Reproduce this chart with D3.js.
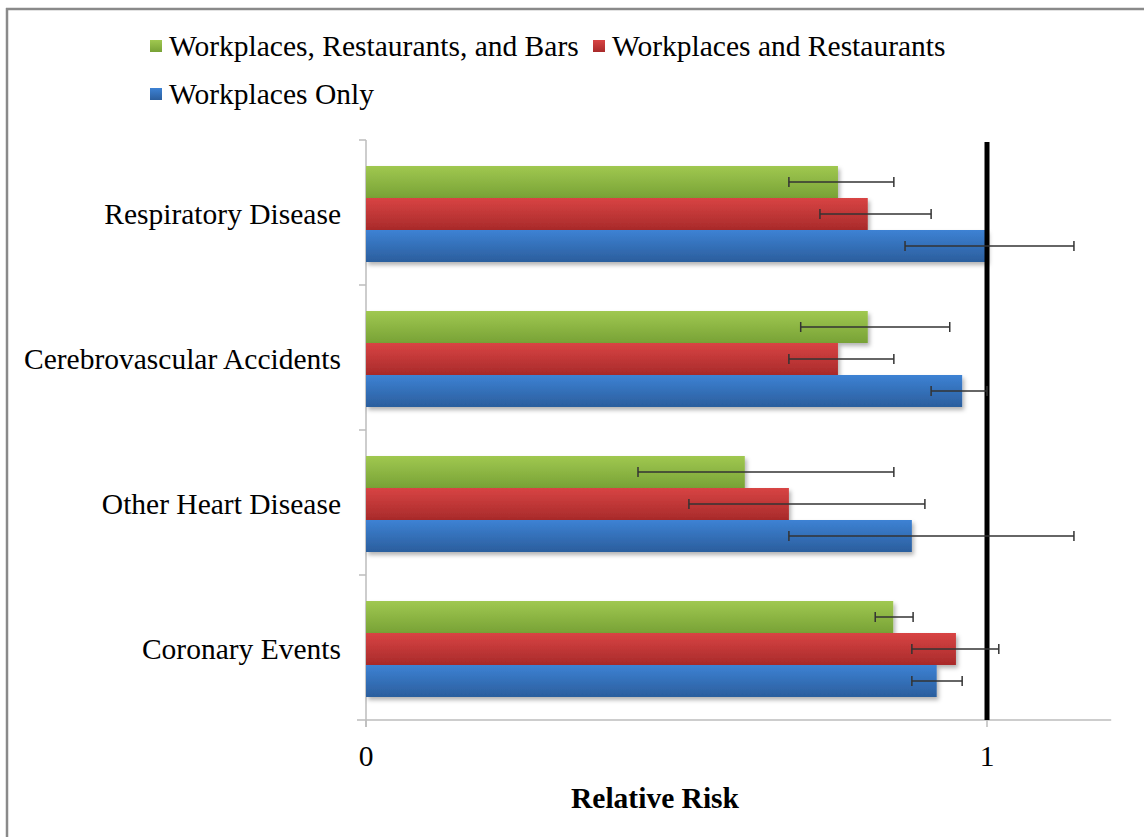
<!DOCTYPE html>
<html><head><meta charset="utf-8">
<script src="https://cdn.jsdelivr.net/npm/d3@7"></script>
<style>body{margin:0;background:#fff}svg{display:block}text{font-family:"Liberation Serif","Times New Roman",serif;fill:#000}</style>
</head><body><svg id="c" width="1144" height="837"></svg>
<script>
const categories = ["Respiratory Disease","Cerebrovascular Accidents","Other Heart Disease","Coronary Events"];
const seriesNames = ["Workplaces, Restaurants, and Bars","Workplaces and Restaurants","Workplaces Only"];
const greenValues = [0.76, 0.808, 0.61, 0.849];
const greenLow    = [0.681, 0.70, 0.438, 0.82];
const greenHigh   = [0.85, 0.94, 0.85, 0.881];
const redValues   = [0.808, 0.76, 0.681, 0.95];
const redLow      = [0.731, 0.681, 0.52, 0.879];
const redHigh     = [0.91, 0.85, 0.90, 1.019];
const blueValues  = [1.0, 0.96, 0.879, 0.919];
const blueLow     = [0.868, 0.91, 0.681, 0.879];
const blueHigh    = [1.14, 1.0, 1.14, 0.96];
const xTicks = [0, 1];
const referenceValue = 1;

const colors = [["#a0c850","#78a236"],["#d84444","#a82a2a"],["#3d82d4","#2b5e9d"]];
const series = [
  {name: seriesNames[0], v: greenValues, lo: greenLow, hi: greenHigh},
  {name: seriesNames[1], v: redValues, lo: redLow, hi: redHigh},
  {name: seriesNames[2], v: blueValues, lo: blueLow, hi: blueHigh}
];

const svg = d3.select("#c");
const defs = svg.append("defs");
colors.forEach((c,i)=>{
  const g = defs.append("linearGradient").attr("id","g"+i).attr("x1",0).attr("y1",0).attr("x2",0).attr("y2",1);
  g.append("stop").attr("offset","0%").attr("stop-color",c[0]);
  g.append("stop").attr("offset","100%").attr("stop-color",c[1]);
});
const f = defs.append("filter").attr("id","sh").attr("x","-5%").attr("y","-20%").attr("width","115%").attr("height","160%");
f.append("feDropShadow").attr("dx",2).attr("dy",3).attr("stdDeviation",2).attr("flood-color","#000").attr("flood-opacity",0.3);

// frame
svg.append("line").attr("x1",6).attr("x2",1144).attr("y1",9).attr("y2",9).attr("stroke","#8a8a8a").attr("stroke-width",2.5);
svg.append("line").attr("x1",7).attr("x2",7).attr("y1",8).attr("y2",837).attr("stroke","#8a8a8a").attr("stroke-width",2.5);

const x = d3.scaleLinear().domain([0,1.2]).range([366, 366+621*1.2]);
const y0 = d3.scaleBand().domain(categories).range([141.5,721.5]).paddingInner(49/145).paddingOuter(49/290);
const y1 = d3.scaleBand().domain([0,1,2]).range([0,y0.bandwidth()]);

// axes
const axisColor = "#bdbdbd";
svg.append("line").attr("x1",357).attr("x2",x(1.2)).attr("y1",720).attr("y2",720).attr("stroke",axisColor).attr("stroke-width",1.5);
svg.append("line").attr("x1",366).attr("x2",366).attr("y1",140).attr("y2",727).attr("stroke",axisColor).attr("stroke-width",1.5);
[140,285,430,575].forEach(t=>svg.append("line").attr("x1",359).attr("x2",366).attr("y1",t).attr("y2",t).attr("stroke",axisColor).attr("stroke-width",1.5));
xTicks.forEach(t=>svg.append("line").attr("x1",x(t)).attr("x2",x(t)).attr("y1",720).attr("y2",727).attr("stroke",axisColor).attr("stroke-width",1.5));

// bars
series.forEach((s,i)=>{
  svg.append("g").attr("filter","url(#sh)").selectAll("rect").data(categories).join("rect")
    .attr("x",x(0)).attr("y",d=>y0(d)+y1(i)).attr("width",(d,j)=>x(s.v[j])-x(0)).attr("height",y1.bandwidth())
    .attr("fill",`url(#g${i})`);
});

// reference line
svg.append("line").attr("x1",x(referenceValue)).attr("x2",x(referenceValue)).attr("y1",142).attr("y2",720).attr("stroke","#000").attr("stroke-width",5);

// error bars
series.forEach((s,i)=>{
  const g = svg.append("g").attr("stroke","#333").attr("stroke-width",1.5);
  categories.forEach((c,j)=>{
    const cy = y0(c)+y1(i)+y1.bandwidth()/2;
    g.append("line").attr("x1",x(s.lo[j])).attr("x2",x(s.hi[j])).attr("y1",cy).attr("y2",cy);
    [s.lo[j],s.hi[j]].forEach(v=>g.append("line").attr("x1",x(v)).attr("x2",x(v)).attr("y1",cy-5).attr("y2",cy+5));
  });
});

const FS = 29.5;
// category labels
svg.selectAll(".cl").data(categories).join("text").attr("class","cl")
  .attr("x",341).attr("y",d=>y0(d)+y0.bandwidth()/2).attr("dy","0.35em").attr("text-anchor","end")
  .attr("font-size",FS).text(d=>d);

// tick labels
svg.selectAll(".tl").data(xTicks).join("text").attr("class","tl")
  .attr("x",d=>x(d)).attr("y",766).attr("text-anchor","middle").attr("font-size",FS).text(d=>d);

svg.append("text").attr("x",655).attr("y",808).attr("text-anchor","middle").attr("font-size",FS).attr("font-weight","bold").text("Relative Risk");

// legend
const leg = [{i:0,x:150,y:46},{i:1,x:593,y:46},{i:2,x:150,y:94}];
leg.forEach(l=>{
  svg.append("rect").attr("x",l.x).attr("y",l.y-6).attr("width",12).attr("height",12).attr("fill",`url(#g${l.i})`);
  svg.append("text").attr("x",l.x+19).attr("y",l.y).attr("dy","0.35em").attr("font-size",FS).text(series[l.i].name);
});
</script></body></html>
